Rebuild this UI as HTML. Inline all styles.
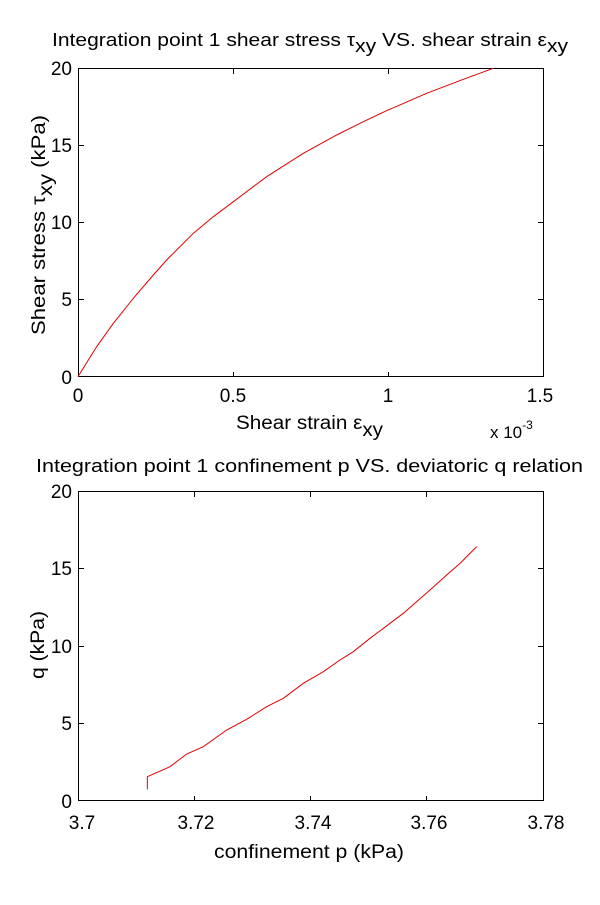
<!DOCTYPE html>
<html><head><style>
body{margin:0;background:#fff;}
svg text{font-family:"Liberation Sans",Arial,sans-serif;fill:#000;}
</style></head><body>
<svg width="600" height="900" viewBox="0 0 600 900" xmlns="http://www.w3.org/2000/svg">
<rect width="600" height="900" fill="#fff"/>
<!-- Top plot -->
<text x="52" y="46" font-size="18" textLength="516" lengthAdjust="spacingAndGlyphs">Integration point 1 shear stress τ<tspan dy="6">xy</tspan><tspan dy="-6"> VS. shear strain ε</tspan><tspan dy="6">xy</tspan></text>
<rect x="78.5" y="68.5" width="465" height="308" fill="none" stroke="#000" stroke-width="1"/>
<g stroke="#000" stroke-width="1">
<line x1="233.5" y1="377" x2="233.5" y2="372"/><line x1="233.5" y1="69" x2="233.5" y2="74"/>
<line x1="388.5" y1="377" x2="388.5" y2="372"/><line x1="388.5" y1="69" x2="388.5" y2="74"/>
<line x1="79" y1="299.5" x2="84" y2="299.5"/><line x1="543" y1="299.5" x2="538" y2="299.5"/>
<line x1="79" y1="222.5" x2="84" y2="222.5"/><line x1="543" y1="222.5" x2="538" y2="222.5"/>
<line x1="79" y1="145.5" x2="84" y2="145.5"/><line x1="543" y1="145.5" x2="538" y2="145.5"/>
</g>
<g font-size="19">
<text x="78" y="402" text-anchor="middle">0</text>
<text x="233" y="402" text-anchor="middle">0.5</text>
<text x="388" y="402" text-anchor="middle">1</text>
<text x="540" y="402" text-anchor="middle">1.5</text>
<text x="72" y="384" text-anchor="end">0</text>
<text x="72" y="306" text-anchor="end">5</text>
<text x="72" y="229" text-anchor="end">10</text>
<text x="72" y="152" text-anchor="end">15</text>
<text x="72" y="75" text-anchor="end">20</text>
</g>
<text x="236" y="429" font-size="19" textLength="147" lengthAdjust="spacingAndGlyphs">Shear strain ε<tspan dy="7">xy</tspan></text>
<text x="490" y="438" font-size="17">x 10<tspan dy="-9" font-size="12">-3</tspan></text>
<text transform="translate(45,225) rotate(-90)" x="-110" font-size="19" textLength="220" lengthAdjust="spacingAndGlyphs">Shear stress τ<tspan dy="7">xy</tspan><tspan dy="-7"> (kPa)</tspan></text>
<g transform="matrix(0.33333 0 0 0.33333 70 60)">
<polyline fill="none" stroke="#e00000" stroke-width="1" vector-effect="non-scaling-stroke" points="24,950 80,860 130,790 190,715 250,645 290,600 370,520 430,470 490,425 590,350 700,280 800,225 880,185 950,152 1070,100 1180,58 1270,25"/>
</g>
<!-- Bottom plot -->
<text x="36" y="472" font-size="18" textLength="547" lengthAdjust="spacingAndGlyphs">Integration point 1 confinement p VS. deviatoric q relation</text>
<rect x="78.5" y="491.5" width="465" height="309" fill="none" stroke="#000" stroke-width="1"/>
<g stroke="#000" stroke-width="1">
<line x1="194.5" y1="801" x2="194.5" y2="796"/><line x1="194.5" y1="492" x2="194.5" y2="497"/>
<line x1="310.5" y1="801" x2="310.5" y2="796"/><line x1="310.5" y1="492" x2="310.5" y2="497"/>
<line x1="426.5" y1="801" x2="426.5" y2="796"/><line x1="426.5" y1="492" x2="426.5" y2="497"/>
<line x1="79" y1="723.5" x2="84" y2="723.5"/><line x1="543" y1="723.5" x2="538" y2="723.5"/>
<line x1="79" y1="646.5" x2="84" y2="646.5"/><line x1="543" y1="646.5" x2="538" y2="646.5"/>
<line x1="79" y1="568.5" x2="84" y2="568.5"/><line x1="543" y1="568.5" x2="538" y2="568.5"/>
</g>
<g font-size="19">
<text x="82" y="829" text-anchor="middle">3.7</text>
<text x="196" y="829" text-anchor="middle">3.72</text>
<text x="313" y="829" text-anchor="middle">3.74</text>
<text x="429" y="829" text-anchor="middle">3.76</text>
<text x="546" y="829" text-anchor="middle">3.78</text>
<text x="72" y="808" text-anchor="end">0</text>
<text x="72" y="730" text-anchor="end">5</text>
<text x="72" y="653" text-anchor="end">10</text>
<text x="72" y="575" text-anchor="end">15</text>
<text x="72" y="498" text-anchor="end">20</text>
</g>
<text x="214" y="858" font-size="19" textLength="190" lengthAdjust="spacingAndGlyphs">confinement p (kPa)</text>
<text transform="translate(44,645) rotate(-90)" x="-34" font-size="19" textLength="68" lengthAdjust="spacingAndGlyphs">q (kPa)</text>
<g transform="matrix(0.33333 0 0 0.33333 70 480)">
<polyline fill="none" stroke="#e00000" stroke-width="1" vector-effect="non-scaling-stroke" points="232,928 232,890 300,860 350,822 400,800 470,750 530,718 590,680 640,655 700,610 760,575 810,540 850,515 900,475 960,430 1000,400 1040,365 1080,330 1130,285 1170,250 1220,200"/>
</g>
</svg>
</body></html>
